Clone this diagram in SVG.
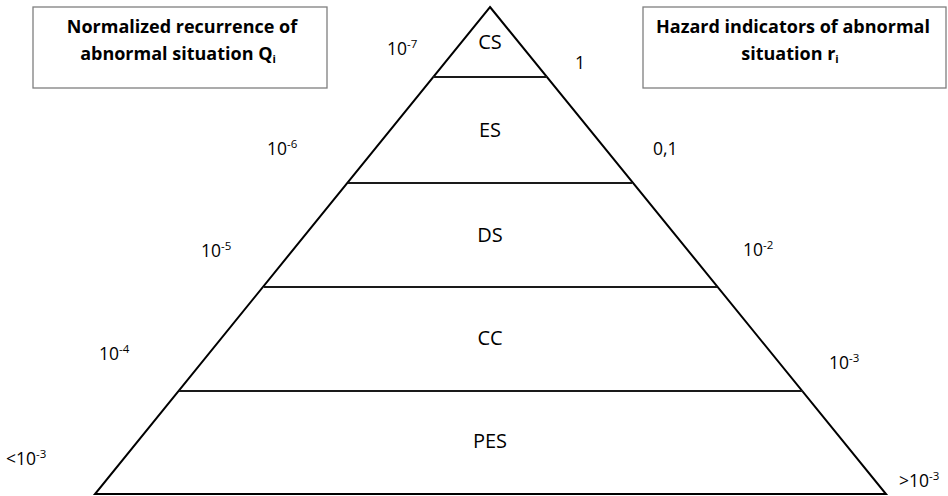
<svg xmlns="http://www.w3.org/2000/svg" width="948" height="496" viewBox="0 0 948 496">
<style>
.box{fill:#fff;stroke:#7f7f7f;stroke-width:1.3}
.ttl{font-family:"Open Sans","Liberation Sans",sans-serif;font-weight:bold;font-size:18px;fill:#000;text-anchor:middle}
.lvl{font-family:"Open Sans","Liberation Sans",sans-serif;font-size:20px;fill:#000;text-anchor:middle}
.num{font-family:"Open Sans","Liberation Sans",sans-serif;font-size:17.5px;fill:#000}
.edge{fill:none;stroke:#000;stroke-width:2;stroke-linejoin:miter}
.div{stroke:#1a1a1a;stroke-width:2}
</style>
<rect width="948" height="496" fill="#fff"/>
<g id="box-left">
<rect class="box" x="33" y="7" width="294" height="81"/>
<text class="ttl" x="182" y="33">Normalized recurrence of</text>
<text class="ttl" x="178" y="60">abnormal situation Q<tspan font-size="11" dy="3">i</tspan></text>
</g>
<g id="box-right">
<rect class="box" x="643" y="7" width="303" height="81"/>
<text class="ttl" x="793" y="33">Hazard indicators of abnormal</text>
<text class="ttl" x="790" y="60">situation r<tspan font-size="11" dy="3">i</tspan></text>
</g>
<g id="connectors">
<polygon class="edge" points="490,7 886,494 95,494"/>
<line class="div" x1="433" y1="77" x2="547" y2="77"/>
<line class="div" x1="348" y1="183" x2="632" y2="183"/>
<line class="div" x1="264" y1="287" x2="717" y2="287"/>
<line class="div" x1="179" y1="391" x2="803" y2="391"/>
</g>
<g id="tier-CS"><text class="lvl" x="490" y="49">CS</text></g>
<g id="tier-ES"><text class="lvl" x="490" y="137">ES</text></g>
<g id="tier-DS"><text class="lvl" x="490" y="242">DS</text></g>
<g id="tier-CC"><text class="lvl" x="490" y="345">CC</text></g>
<g id="tier-PES"><text class="lvl" x="490" y="448">PES</text></g>
<g id="labels-left">
<text class="num" x="387" y="55">10<tspan font-size="11.5" dy="-7">-7</tspan></text>
<text class="num" x="267" y="155">10<tspan font-size="11.5" dy="-7">-6</tspan></text>
<text class="num" x="201" y="257">10<tspan font-size="11.5" dy="-7">-5</tspan></text>
<text class="num" x="99" y="360">10<tspan font-size="11.5" dy="-7">-4</tspan></text>
<text class="num" x="6" y="465">&lt;10<tspan font-size="11.5" dy="-7">-3</tspan></text>
</g>
<g id="labels-right">
<text class="num" x="575" y="69">1</text>
<text class="num" x="653" y="155">0,1</text>
<text class="num" x="743" y="256">10<tspan font-size="11.5" dy="-7">-2</tspan></text>
<text class="num" x="829" y="369">10<tspan font-size="11.5" dy="-7">-3</tspan></text>
<text class="num" x="899" y="487">&gt;10<tspan font-size="11.5" dy="-7">-3</tspan></text>
</g>
</svg>
